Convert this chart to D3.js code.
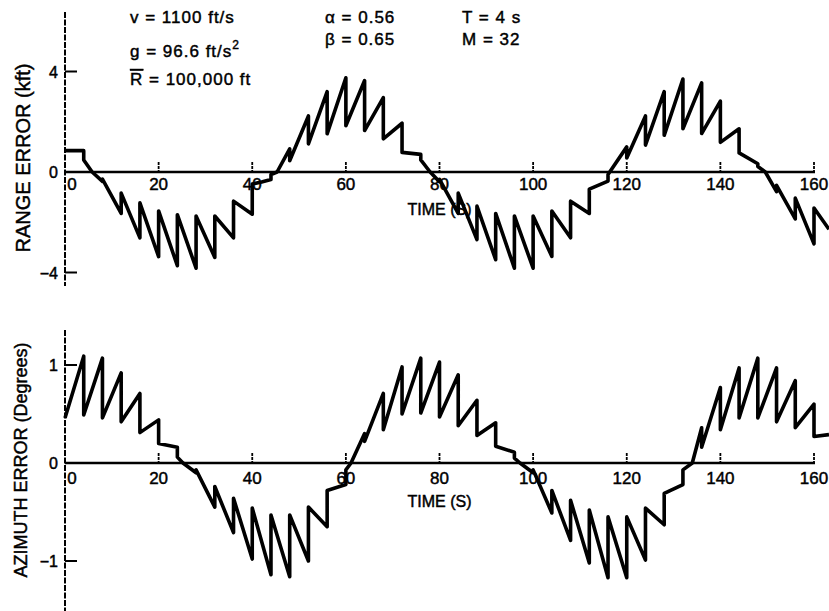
<!DOCTYPE html>
<html>
<head>
<meta charset="utf-8">
<script src="https://cdn.jsdelivr.net/npm/d3@7"></script>
<style>
	html, body { margin: 0; padding: 0; background: #fff; }
	svg { display: block; }
	text { font-family: 'Liberation Sans', Arial, sans-serif; fill: #000; stroke: #000; stroke-width: 0.45px; }
</style>
</head>
<body>
<script>
(function () {
	'use strict';

	// time axis (s)
	var timeTicks = [0, 20, 40, 60, 80, 100, 120, 140, 160];
	var rangeTicks = [-4, 0, 4];
	var azTicks = [-1, 0, 1];

	// range error (kft); repeated times are the jumps at each update
	var rangeTime = [
		0, 4, 4, 5.8, 8, 8,
		12, 12, 16, 16, 20, 20, 24, 24, 28, 28, 32, 32, 36, 36, 40, 40, 42, 44, 44, 45.3,
		48, 48, 52, 52, 56, 56, 60, 60, 64, 64, 68, 68, 72, 72, 76, 76, 78,
		80, 80, 84, 84, 88, 88, 92, 92, 96, 96, 100, 100, 104, 104, 108, 108, 112, 112, 116, 116,
		120, 120, 124, 124, 128, 128, 132, 132, 136, 136, 140, 140, 144, 144, 148, 148, 149.6,
		152, 152, 156, 156, 160, 160, 163.2
	];
	var rangeErr = [
		0.85, 0.85, 0.48, 0, -0.37, -0.28,
		-1.65, -0.84, -2.62, -1.23, -3.37, -1.55, -3.73, -1.70, -3.83, -1.75, -3.40, -1.75, -2.62, -1.16, -1.68, -0.48, -0.40, -0.30, -0.10, 0,
		0.92, 0.45, 2.23, 1.12, 3.20, 1.52, 3.75, 1.84, 3.64, 1.65, 2.96, 1.32, 1.94, 0.78, 0.70, 0.48, 0,
		-0.39, -0.29, -1.65, -0.84, -2.69, -1.36, -3.49, -1.65, -3.83, -1.75, -3.83, -1.75, -3.36, -1.55, -2.62, -1.16, -1.65, -0.68, -0.36, -0.10,
		1.00, 0.56, 2.23, 1.07, 3.20, 1.46, 3.70, 1.72, 3.55, 1.53, 2.82, 1.18, 1.72, 0.76, 0.33, 0.22, 0,
		-0.78, -0.53, -1.87, -1.04, -2.86, -1.43, -2.28
	];

	// azimuth error (degrees), lower panel
	var azTime = [
		0, 4, 4, 8, 8, 12, 12, 16, 16, 20, 20, 24, 24, 25.2, 28, 28,
		32, 32, 36, 36, 40, 40, 44, 44, 48, 48, 52, 52, 56, 56, 60, 60, 61.1,
		64, 64, 68, 68, 72, 72, 76, 76, 80, 80, 84, 84, 88, 88, 92, 92, 96, 96, 97.2, 100, 100,
		104, 104, 108, 108, 112, 112, 116, 116, 120, 120, 124, 124, 128, 128, 132, 132, 134,
		136, 136, 140, 140, 144, 144, 148, 148, 152, 152, 156, 156, 160, 160, 163.2
	];
	var azErr = [
		0.46, 1.09, 0.49, 1.07, 0.46, 0.92, 0.42, 0.71, 0.31, 0.44, 0.20, 0.16, 0.06, 0, -0.10, -0.07,
		-0.45, -0.24, -0.71, -0.36, -0.98, -0.46, -1.14, -0.53, -1.16, -0.53, -1.00, -0.45, -0.65, -0.28, -0.22, -0.07, 0,
		0.30, 0.22, 0.71, 0.34, 0.98, 0.50, 1.07, 0.51, 1.03, 0.47, 0.90, 0.38, 0.64, 0.28, 0.41, 0.17, 0.11, 0.05, 0, -0.10, -0.07,
		-0.51, -0.28, -0.79, -0.38, -1.02, -0.48, -1.17, -0.55, -1.17, -0.55, -0.99, -0.46, -0.63, -0.31, -0.22, -0.07, 0,
		0.36, 0.16, 0.77, 0.34, 0.97, 0.46, 1.07, 0.46, 0.97, 0.42, 0.84, 0.36, 0.60, 0.27, 0.29
	];

	var width = 829, height = 611;

	var svg = d3.select('body').append('svg')
		.attr('width', width)
		.attr('height', height);

	svg.append('rect').attr('width', width).attr('height', height).attr('fill', '#fff');

	var x = d3.scaleLinear().domain([0, 160]).range([65, 814]);

	var panels = [
		{
			y: d3.scaleLinear().domain([-4, 4]).range([272.5, 71.5]),
			ticks: rangeTicks,
			axisTop: 12, axisBottom: 286,
			labelBase: 190, timeTitleY: 215,
			title: 'RANGE ERROR (kft)', titleSize: 20, titleX: 30, titleY: 158,
			time: rangeTime, values: rangeErr
		},
		{
			y: d3.scaleLinear().domain([-1, 1]).range([561, 365]),
			ticks: azTicks,
			axisTop: 330, axisBottom: 611,
			labelBase: 484, timeTitleY: 507,
			title: 'AZIMUTH ERROR (Degrees)', titleSize: 18, titleX: 27, titleY: 460,
			time: azTime, values: azErr
		}
	];

	panels.forEach(function (p) {
		var g = svg.append('g');
		var y0 = p.y(0);

		// vertical axis
		g.append('line')
			.attr('x1', x(0)).attr('x2', x(0))
			.attr('y1', p.axisTop).attr('y2', p.axisBottom)
			.attr('stroke', '#000').attr('stroke-width', 2)
			.attr('stroke-dasharray', '6,1.5');

		// zero line
		g.append('line')
			.attr('x1', x(0)).attr('x2', x(160) + 1)
			.attr('y1', y0).attr('y2', y0)
			.attr('stroke', '#000').attr('stroke-width', 2.5);

		// time ticks, drawn above the zero line
		g.selectAll('.xtick')
			.data(timeTicks.filter(function (d) { return d > 0; }))
			.enter().append('line')
			.attr('class', 'xtick')
			.attr('x1', function (d) { return x(d); })
			.attr('x2', function (d) { return x(d); })
			.attr('y1', y0 - 10).attr('y2', y0)
			.attr('stroke', '#000').attr('stroke-width', 1.8)
			.attr('stroke-dasharray', '3,1');

		g.selectAll('.xlabel')
			.data(timeTicks)
			.enter().append('text')
			.attr('class', 'xlabel')
			.attr('x', function (d) { return d === 0 ? x(d) + 7 : x(d); })
			.attr('y', p.labelBase)
			.attr('text-anchor', 'middle')
			.attr('font-size', 17)
			.text(function (d) { return d; });

		g.append('text')
			.attr('x', x(80))
			.attr('y', p.timeTitleY)
			.attr('text-anchor', 'middle')
			.attr('font-size', 16)
			.text('TIME (S)');

		// value ticks
		g.selectAll('.ytick')
			.data(p.ticks.filter(function (d) { return d !== 0; }))
			.enter().append('line')
			.attr('class', 'ytick')
			.attr('x1', x(0)).attr('x2', x(0) + 12)
			.attr('y1', function (d) { return p.y(d); })
			.attr('y2', function (d) { return p.y(d); })
			.attr('stroke', '#000').attr('stroke-width', 2);

		g.selectAll('.ylabel')
			.data(p.ticks)
			.enter().append('text')
			.attr('class', 'ylabel')
			.attr('x', x(0) - 7)
			.attr('y', function (d) { return p.y(d) + 6; })
			.attr('text-anchor', 'end')
			.attr('font-size', 16)
			.text(function (d) { return d < 0 ? '\u2212' + Math.abs(d) : d; });

		g.append('text')
			.attr('transform', 'translate(' + p.titleX + ',' + p.titleY + ') rotate(-90)')
			.attr('text-anchor', 'middle')
			.attr('font-size', p.titleSize)
			.text(p.title);

		var line = d3.line()
			.x(function (d) { return x(d[0]); })
			.y(function (d) { return p.y(d[1]); });

		g.append('path')
			.datum(d3.zip(p.time, p.values))
			.attr('d', line)
			.attr('fill', 'none')
			.attr('stroke', '#000')
			.attr('stroke-width', 3.6)
			.attr('stroke-linejoin', 'round');
	});

	// parameter block
	var notes = svg.append('g')
		.attr('font-size', 17)
		.attr('letter-spacing', 1);

	notes.append('text').attr('x', 130).attr('y', 23).text('v = 1100 ft/s');

	var gText = notes.append('text').attr('x', 130).attr('y', 57);
	gText.append('tspan').text('g = 96.6 ft/s');
	gText.append('tspan').attr('dy', -8).attr('font-size', 12).text('2');

	var rText = notes.append('text').attr('x', 130).attr('y', 85);
	rText.append('tspan').style('text-decoration', 'overline').text('R');
	rText.append('tspan').text(' = 100,000 ft');

	notes.append('text').attr('x', 325).attr('y', 23).text('\u03b1 = 0.56');
	notes.append('text').attr('x', 325).attr('y', 45).text('\u03b2 = 0.65');
	notes.append('text').attr('x', 462).attr('y', 23).text('T = 4 s');
	notes.append('text').attr('x', 462).attr('y', 45).text('M = 32');
})();
</script>
</body>
</html>
